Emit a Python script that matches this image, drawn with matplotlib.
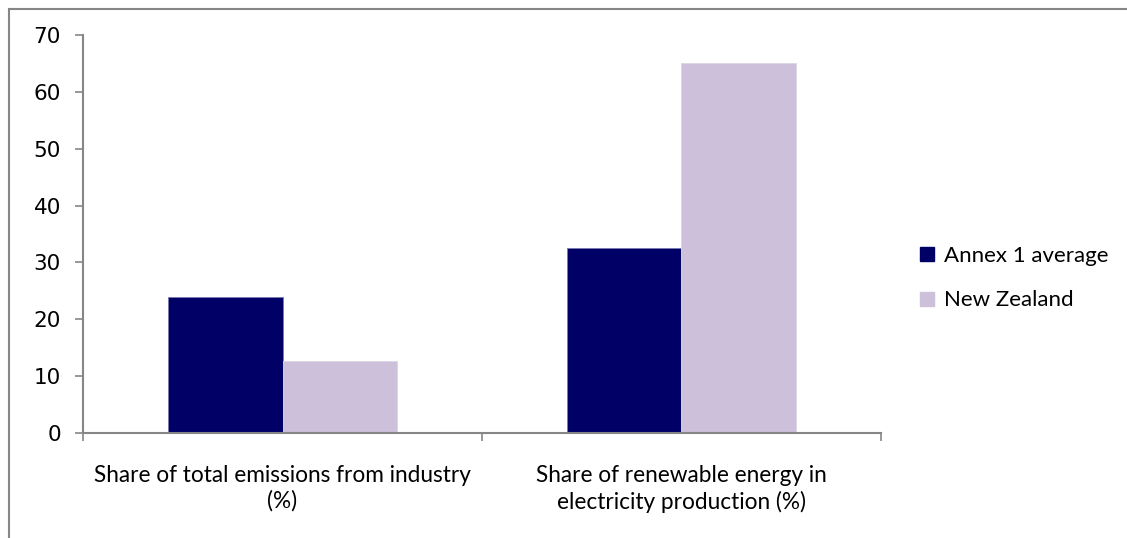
#!/usr/bin/env python3

import matplotlib
matplotlib.use('Agg')
import matplotlib.pyplot as plt
import numpy as np
from matplotlib.lines import Line2D


categories = [
    'Share of total emissions from industry\n(%)',
    'Share of renewable energy in\nelectricity production (%)',
]
series_names = ['Annex 1 average', 'New Zealand']
annex_values = [24.0, 32.5]
nz_values = [12.7, 65.0]
yticks = [0, 10, 20, 30, 40, 50, 60, 70]

NAVY = '#000066'
LAVENDER = '#ccc0da'
GREY = '#868686'
LABEL_FONT = ['Lato', 'DejaVu Sans']

fig = plt.figure(figsize=(11.27, 5.38), dpi=100)
ax = fig.add_axes([0.0737, 0.1952, 0.708, 0.7397])

x = np.arange(len(categories))
width = 0.286
ax.bar(x - width / 2, annex_values, width, color=NAVY, edgecolor='#7a7ab0',
       linewidth=0.6, label=series_names[0])
ax.bar(x + width / 2, nz_values, width, color=LAVENDER, edgecolor='#dcd4e6',
       linewidth=0.6, label=series_names[1])

ax.set_xlim(-0.5, len(categories) - 0.5)
ax.set_ylim(0, 70)
ax.set_yticks(yticks)
ax.tick_params(axis='y', direction='out', length=6, width=1.2, color=GREY,
               labelsize=15.5, pad=10)

ax.set_xticks(x)
ax.set_xticklabels(categories, fontsize=16.3, family=LABEL_FONT, linespacing=1.25)
ax.tick_params(axis='x', which='major', length=0, pad=23)
ax.set_xticks(np.arange(-0.5, len(categories)), minor=True)
ax.tick_params(axis='x', which='minor', direction='out', length=6, width=1.2,
               color=GREY)

for side in ['top', 'right']:
    ax.spines[side].set_visible(False)
for side in ['left', 'bottom']:
    ax.spines[side].set_color(GREY)
    ax.spines[side].set_linewidth(1.5)

leg = fig.legend(
    handles=[
        Line2D([], [], marker='s', linestyle='none', markersize=10,
               markerfacecolor=NAVY, markeredgecolor=NAVY),
        Line2D([], [], marker='s', linestyle='none', markersize=10,
               markerfacecolor=LAVENDER, markeredgecolor=LAVENDER),
    ],
    labels=series_names,
    loc='center left', bbox_to_anchor=(0.797, 0.483),
    frameon=False, prop={'family': LABEL_FONT, 'size': 16},
    handlelength=0.8, handletextpad=0.35, labelspacing=1.1,
)

# outer chart frame (only top and left edges visible in the crop)
fig.add_artist(Line2D([0.008, 1.0], [1 - 9 / 538, 1 - 9 / 538],
                      transform=fig.transFigure, color=GREY, linewidth=1.5))
fig.add_artist(Line2D([0.008, 0.008], [1 - 9 / 538, 0.0],
                      transform=fig.transFigure, color=GREY, linewidth=1.5))

fig.savefig('out.png', dpi=100)
